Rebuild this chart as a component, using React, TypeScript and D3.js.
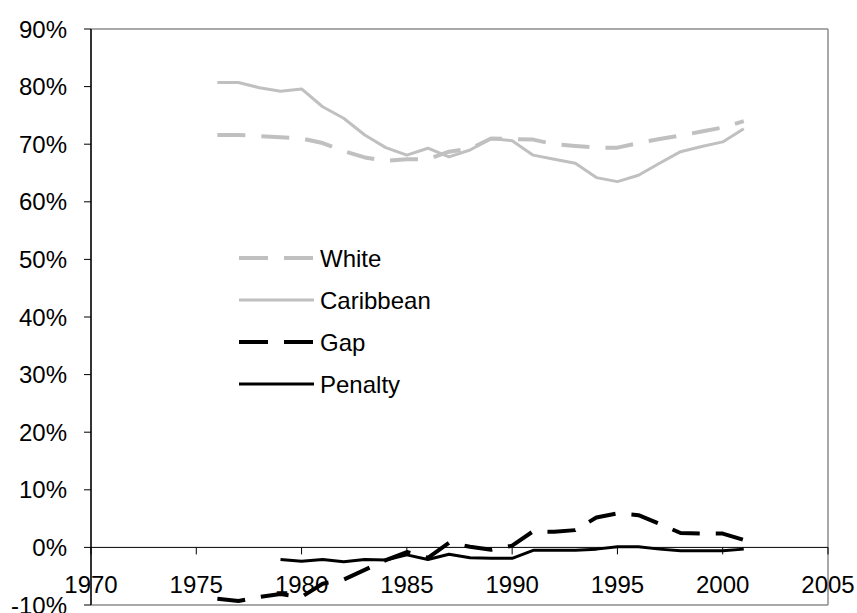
import React from "react";
import * as d3 from "d3";

const years = d3.range(1976, 2002);
const white = [71.6, 71.6, 71.4, 71.2, 71.0, 70.2, 68.8, 67.7, 67.1, 67.4, 67.4, 68.7, 69.2, 71.0, 70.9, 70.8, 70.0, 69.7, 69.4, 69.4, 70.2, 70.9, 71.5, 72.2, 72.9, 74.0];
const caribbean = [80.7, 80.7, 79.8, 79.2, 79.6, 76.5, 74.5, 71.6, 69.4, 68.1, 69.3, 67.8, 69.0, 71.0, 70.6, 68.1, 67.4, 66.7, 64.2, 63.5, 64.6, 66.7, 68.7, 69.6, 70.4, 72.7];
const gap = [-8.9, -9.3, -8.6, -8.1, -8.6, -6.3, -5.6, -3.9, -2.2, -0.8, -1.8, 0.8, 0.1, -0.4, 0.3, 2.8, 2.7, 3.0, 5.2, 5.9, 5.6, 4.1, 2.5, 2.4, 2.4, 1.3];
const penaltyYears = d3.range(1979, 2002);
const penalty = [-2.1, -2.4, -2.1, -2.5, -2.1, -2.2, -1.3, -2.1, -1.2, -1.8, -1.9, -1.9, -0.5, -0.5, -0.5, -0.3, 0.1, 0.1, -0.3, -0.6, -0.6, -0.6, -0.3];

const xTicks = [1970, 1975, 1980, 1985, 1990, 1995, 2000, 2005];
const yTicks = [-10, 0, 10, 20, 30, 40, 50, 60, 70, 80, 90];

const seriesNames = ["White", "Caribbean", "Gap", "Penalty"];

const FONT = "Arial, 'Liberation Sans', sans-serif";

export default function App() {
  const W = 857, H = 613;
  const x = d3.scaleLinear().domain([1970, 2005]).range([91, 828]);
  const y = d3.scaleLinear().domain([-10, 90]).range([605, 29]);
  const line = d3.line<[number, number]>().x(d => x(d[0])).y(d => y(d[1]));
  const pts = (ys: number[], vs: number[]) => ys.map((yr, i) => [yr, vs[i]] as [number, number]);

  const styles = [
    { color: "#c0c0c0", width: 4, dash: "28,16" },
    { color: "#c0c0c0", width: 3, dash: undefined },
    { color: "#000000", width: 4, dash: "28,16" },
    { color: "#000000", width: 3, dash: undefined },
  ];
  const data = [pts(years, white), pts(years, caribbean), pts(years, gap), pts(penaltyYears, penalty)];

  const legendY = [258, 300, 342, 384];

  return (
    <div style={{ position: "fixed", left: 0, top: 0 }}>
      <svg width={W} height={H} style={{ display: "block", background: "#fff" }}>
        {/* frame */}
        <line x1={x(1970)} x2={x(2005)} y1={y(90)} y2={y(90)} stroke="#8c8c8c" strokeWidth={1.5} />
        <line x1={x(2005)} x2={x(2005)} y1={y(90)} y2={y(-10)} stroke="#8c8c8c" strokeWidth={1.5} />
        <line x1={x(1970)} x2={x(2005)} y1={y(-10)} y2={y(-10)} stroke="#8c8c8c" strokeWidth={1.5} />
        {/* y axis */}
        <line x1={x(1970)} x2={x(1970)} y1={y(90)} y2={y(-10)} stroke="#333" strokeWidth={2} />
        {yTicks.map(t => (
          <g key={t}>
            <line x1={x(1970) - 7} x2={x(1970)} y1={y(t)} y2={y(t)} stroke="#000" strokeWidth={1} />
            <text x={67} y={y(t)} dy="0.36em" textAnchor="end" fontFamily={FONT} fontSize={24} fill="#000">
              {t + "%"}
            </text>
          </g>
        ))}
        {/* x axis at 0 */}
        <line x1={x(1970)} x2={x(2005)} y1={y(0)} y2={y(0)} stroke="#000" strokeWidth={1} />
        {xTicks.map(t => (
          <g key={t}>
            <line x1={x(t)} x2={x(t)} y1={y(0)} y2={y(0) + 7} stroke="#000" strokeWidth={1} />
            <text x={x(t)} y={584} dy="0.36em" textAnchor="middle" fontFamily={FONT} fontSize={24} fill="#000">
              {t}
            </text>
          </g>
        ))}
        {/* series */}
        {data.map((d, i) => (
          <path key={i} d={line(d) || ""} fill="none" stroke={styles[i].color} strokeWidth={styles[i].width}
            strokeDasharray={styles[i].dash} strokeLinejoin="round" />
        ))}
        {/* legend */}
        {seriesNames.map((n, i) => (
          <g key={n}>
            <line x1={239} x2={314} y1={legendY[i]} y2={legendY[i]} stroke={styles[i].color}
              strokeWidth={styles[i].width} strokeDasharray={styles[i].dash ? "29,16" : undefined} />
            <text x={320} y={legendY[i]} dy="0.36em" fontFamily={FONT} fontSize={24} fill="#000">{n}</text>
          </g>
        ))}
      </svg>
    </div>
  );
}
